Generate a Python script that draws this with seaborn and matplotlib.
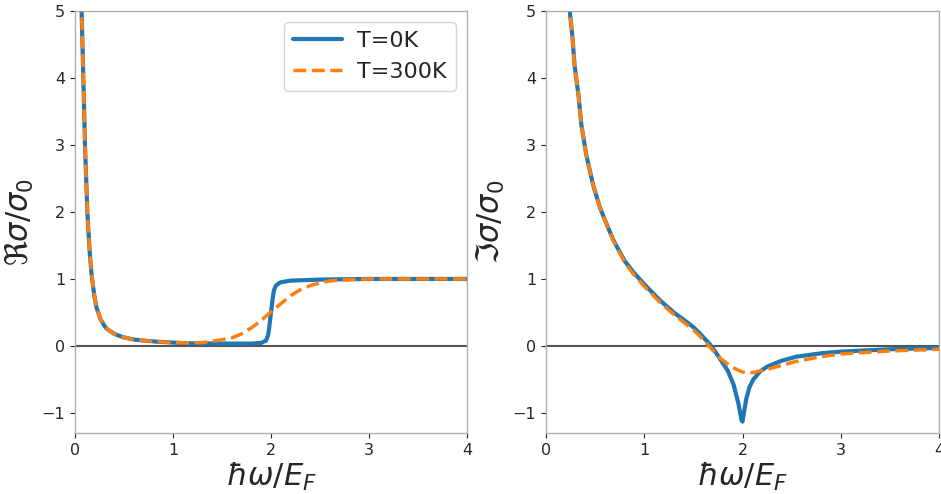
import numpy as np
import pandas as pd
import matplotlib
matplotlib.use("Agg")
import matplotlib.pyplot as plt
import seaborn as sns

# ---- data ----
re_x_0K = [0.066, 0.068, 0.085, 0.102, 0.126, 0.15, 0.17, 0.20, 0.22, 0.26, 0.30, 0.32, 0.40,
           0.49, 0.60, 0.70, 0.83, 1.00, 1.14, 1.50, 1.80, 1.90, 1.95, 1.97, 1.98, 1.99, 2.00,
           2.01, 2.02, 2.03, 2.05, 2.08, 2.10, 2.20, 2.50, 3.00, 3.50, 4.00]
re_y_0K = [5.2, 4.96, 4.0, 3.0, 2.0, 1.4, 1.05, 0.72, 0.57, 0.40, 0.30, 0.26, 0.18,
           0.13, 0.095, 0.08, 0.064, 0.05, 0.04, 0.035, 0.035, 0.045, 0.08, 0.16, 0.25, 0.38, 0.50,
           0.62, 0.74, 0.83, 0.90, 0.935, 0.95, 0.975, 0.99, 1.0, 1.0, 1.0]

re_x_300K = [0.066, 0.068, 0.085, 0.102, 0.126, 0.15, 0.17, 0.20, 0.22, 0.26, 0.30, 0.32, 0.40,
             0.49, 0.60, 0.70, 0.83, 1.00, 1.14, 1.30, 1.45, 1.60, 1.70, 1.80, 1.90, 2.00, 2.10,
             2.20, 2.30, 2.40, 2.50, 2.60, 2.80, 3.00, 3.50, 4.00]
re_y_300K = [5.2, 4.96, 4.0, 3.0, 2.0, 1.4, 1.05, 0.72, 0.57, 0.40, 0.30, 0.26, 0.18,
             0.13, 0.095, 0.08, 0.064, 0.05, 0.045, 0.05, 0.08, 0.12, 0.18, 0.27, 0.38, 0.51, 0.63,
             0.75, 0.84, 0.90, 0.94, 0.97, 0.99, 1.0, 1.0, 1.0]

im_x_0K = [0.23, 0.245, 0.27, 0.29, 0.33, 0.36, 0.41, 0.48, 0.55, 0.60, 0.685, 0.80, 0.89,
           1.00, 1.16, 1.30, 1.43, 1.50, 1.57, 1.67, 1.72, 1.77, 1.85, 1.91, 1.96, 1.99, 2.00,
           2.02, 2.04, 2.07, 2.11, 2.18, 2.25, 2.40, 2.55, 2.80, 3.00, 3.50, 4.00]
im_y_0K = [5.3, 4.95, 4.6, 4.2, 3.75, 3.3, 2.85, 2.4, 2.06, 1.88, 1.58, 1.27, 1.10,
           0.92, 0.68, 0.50, 0.36, 0.28, 0.18, 0.02, -0.08, -0.19, -0.37, -0.58, -0.87, -1.11, -1.13,
           -0.95, -0.78, -0.62, -0.50, -0.38, -0.31, -0.22, -0.16, -0.11, -0.085, -0.05, -0.03]

im_x_300K = [0.23, 0.245, 0.27, 0.29, 0.33, 0.36, 0.41, 0.48, 0.55, 0.60, 0.685, 0.80, 0.89,
             1.00, 1.16, 1.30, 1.43, 1.50, 1.57, 1.67, 1.77, 1.85, 1.91, 2.00, 2.04, 2.10, 2.16,
             2.25, 2.35, 2.55, 2.80, 3.00, 3.50, 4.00]
im_y_300K = [5.3, 4.95, 4.6, 4.2, 3.75, 3.3, 2.85, 2.4, 2.06, 1.88, 1.57, 1.25, 1.07,
             0.89, 0.65, 0.47, 0.32, 0.24, 0.14, -0.02, -0.18, -0.27, -0.33, -0.39, -0.40, -0.40, -0.38,
             -0.35, -0.31, -0.23, -0.16, -0.12, -0.075, -0.05]

labels = ["T=0K", "T=300K"]
xticks = [0, 1, 2, 3, 4]
yticks = [-1, 0, 1, 2, 3, 4, 5]

sns.set_theme(style="white")
plt.rcParams["font.family"] = ["DejaVu Sans"]
plt.rcParams["mathtext.fontset"] = "dejavusans"

fig = plt.figure(figsize=(9.41, 4.94), dpi=100)
ax1 = fig.add_axes([75/941, 1-433/494, (467-75)/941, (433-11)/494])
ax2 = fig.add_axes([546/941, 1-433/494, (939-546)/941, (433-11)/494])

blue = "#1f77b4"
orange = "#ff7f0e"

for ax, (x0, y0, x3, y3), ylab in [
    (ax1, (re_x_0K, re_y_0K, re_x_300K, re_y_300K), r"$\Re\sigma/\sigma_0$"),
    (ax2, (im_x_0K, im_y_0K, im_x_300K, im_y_300K), r"$\Im\sigma/\sigma_0$"),
]:
    ax.axhline(0, color="#555555", lw=1.5, zorder=1)
    sns.lineplot(x=x0, y=y0, ax=ax, color=blue, lw=3, label=labels[0], zorder=2)
    sns.lineplot(x=x3, y=y3, ax=ax, color=orange, lw=2.5, linestyle="--",
                 label=labels[1], zorder=3)
    ax.set_xlim(0, 4)
    ax.set_ylim(-1.3, 5)
    ax.set_xticks(xticks)
    ax.set_yticks(yticks)
    ax.set_xticklabels([str(t) for t in xticks])
    ax.set_yticklabels(["\u22121" if t < 0 else str(t) for t in yticks])
    ax.tick_params(axis="both", labelsize=11.5, length=3.5, width=0.8,
                   colors="#262626", left=True, bottom=True, direction="out")
    for s in ax.spines.values():
        s.set_color("#b0b0b0")
        s.set_linewidth(1.0)
    ax.set_xlabel(r"$\hbar\omega/E_F$", fontsize=22, color="#262626", labelpad=2)
    ax.set_ylabel(ylab, fontsize=22, color="#262626", labelpad=4)

ax1.legend(loc="upper right", fontsize=16, frameon=True, handlelength=2.2,
           handletextpad=0.7, borderpad=0.4, labelspacing=0.5)
ax2.get_legend().remove()

fig.savefig("out.png", dpi=100)
